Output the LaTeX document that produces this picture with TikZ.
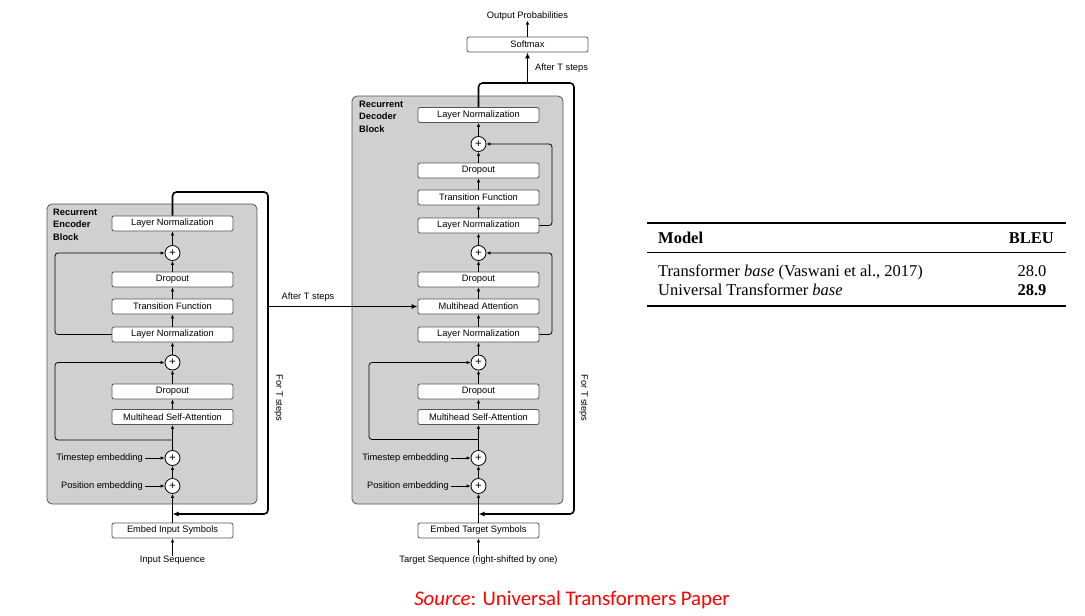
\documentclass[tikz,border=0pt]{standalone}
\usepackage{fontspec}
\setmainfont{Liberation Sans}
\newfontfamily\tabfont{Liberation Serif}
\newfontfamily\srcfont{Carlito}
\usetikzlibrary{arrows.meta}
\definecolor{blockgray}{RGB}{208,208,208}
\definecolor{edgegray}{RGB}{85,85,85}
\definecolor{srcred}{RGB}{255,0,0}
\begin{document}
\begin{tikzpicture}[x=1pt,y=-1pt,font=\fontsize{9.3}{11}\selectfont,
  layer/.style={draw=edgegray,fill=white,rounded corners=2pt,minimum width=121pt,minimum height=15pt,inner sep=0pt,line width=0.8pt},
  addop/.style={circle,draw=black,fill=white,minimum size=15pt,inner sep=0pt,line width=0.8pt,font=\fontsize{11.5}{12}\selectfont},
  blockbg/.style={draw=edgegray,fill=blockgray,rounded corners=5pt,line width=0.8pt},
  flow/.style={line width=0.8pt,-{Latex[length=4pt,width=3.5pt]}},
  loopflow/.style={line width=0.8pt,rounded corners=3pt,-{Latex[length=4pt,width=3.5pt]}},
  fbline/.style={line width=1.6pt,rounded corners=4pt,-{Latex[length=6pt,width=5pt]}},
  crossflow/.style={line width=1.1pt,-{Latex[length=6pt,width=5pt]}},
  blocklabel/.style={anchor=north west,align=left,inner sep=0pt,font=\fontsize{9.3}{12.3}\selectfont\bfseries},
  sidelabel/.style={anchor=east,inner sep=0pt},
  tabtext/.style={inner sep=0pt,font=\fontsize{16.5}{18}\selectfont\tabfont},
  tabbold/.style={inner sep=0pt,font=\fontsize{16.5}{18}\selectfont\tabfont\bfseries},
]
\useasboundingbox (0,0) rectangle (1085,616);

% ---------------- Encoder ----------------
\path[blockbg] (47,204) rectangle (257,504);
\node[blocklabel] (enclabel) at (53,209) {Recurrent\\Encoder\\Block};

\node[layer] (eln2) at (172.5,223.5) {Layer Normalization};
\node[addop] (eadd2) at (172.5,253) {+};
\node[layer] (edrop2) at (172.5,279.5) {Dropout};
\node[layer] (etf) at (172.5,306.5) {Transition Function};
\node[layer] (eln1) at (172.5,334.5) {Layer Normalization};
\node[addop] (eadd1) at (172.5,362.5) {+};
\node[layer] (edrop1) at (172.5,391.5) {Dropout};
\node[layer] (emsa) at (172.5,417) {Multihead Self-Attention};
\node[addop] (etime) at (172.5,458) {+};
\node[addop] (epos) at (172.5,486) {+};
\node[layer] (eemb) at (172.5,530.5) {Embed Input Symbols};
\node[inner sep=0pt] (einput) at (172.5,560) {Input Sequence};
\node[sidelabel] (etimelab) at (143,458) {Timestep embedding};
\node[sidelabel] (eposlab) at (143,486) {Position embedding};

\coordinate (ebr) at (172.5,440);
\coordinate (efb) at (172.5,514);

\draw[flow] (einput.north) -- (eemb.south);
\draw[flow] (eemb.north) -- (epos.south);
\draw[flow] (epos.north) -- (etime.south);
\draw[flow] (etime.north) -- (emsa.south);
\draw[flow] (emsa.north) -- (edrop1.south);
\draw[flow] (edrop1.north) -- (eadd1.south);
\draw[flow] (eadd1.north) -- (eln1.south);
\draw[flow] (eln1.north) -- (etf.south);
\draw[flow] (etf.north) -- (edrop2.south);
\draw[flow] (edrop2.north) -- (eadd2.south);
\draw[flow] (eadd2.north) -- (eln2.south);
\draw[flow] ([xshift=2pt]etimelab.east) -- (etime.west);
\draw[flow] ([xshift=2pt]eposlab.east) -- (epos.west);

\draw[loopflow] (eln1.west) -- (55,334.5) -- (55,253) -- (eadd2.west);
\draw[loopflow] (ebr) -- (55,440) -- (55,362.5) -- (eadd1.west);

\draw[fbline] (eln2.north) -- (172.5,192) -- (268,192) -- (268,514) -- (efb);
\node[rotate=-90,inner sep=0pt] (efor) at (278.5,398) {For T steps};

% ---------------- Decoder ----------------
\path[blockbg] (352,96) rectangle (563,504);
\node[blocklabel] (declabel) at (359,101) {Recurrent\\Decoder\\Block};

\node[layer] (dln3) at (478.5,115) {Layer Normalization};
\node[addop] (dadd3) at (478.5,144) {+};
\node[layer] (ddrop3) at (478.5,170.5) {Dropout};
\node[layer] (dtf) at (478.5,197.5) {Transition Function};
\node[layer] (dln2) at (478.5,225.5) {Layer Normalization};
\node[addop] (dadd2) at (478.5,253) {+};
\node[layer] (ddrop2) at (478.5,279.5) {Dropout};
\node[layer] (dmha) at (478.5,306.5) {Multihead Attention};
\node[layer] (dln1) at (478.5,334.5) {Layer Normalization};
\node[addop] (dadd1) at (478.5,362.5) {+};
\node[layer] (ddrop1) at (478.5,391.5) {Dropout};
\node[layer] (dmsa) at (478.5,417) {Multihead Self-Attention};
\node[addop] (dtime) at (478.5,458) {+};
\node[addop] (dpos) at (478.5,486) {+};
\node[layer] (demb) at (478.5,530.5) {Embed Target Symbols};
\node[inner sep=0pt] (dinput) at (478.5,560) {Target Sequence (right-shifted by one)};
\node[sidelabel] (dtimelab) at (449,458) {Timestep embedding};
\node[sidelabel] (dposlab) at (449,486) {Position embedding};

\coordinate (dbr) at (478.5,439.5);
\coordinate (dfb) at (478.5,514);

\draw[flow] (dinput.north) -- (demb.south);
\draw[flow] (demb.north) -- (dpos.south);
\draw[flow] (dpos.north) -- (dtime.south);
\draw[flow] (dtime.north) -- (dmsa.south);
\draw[flow] (dmsa.north) -- (ddrop1.south);
\draw[flow] (ddrop1.north) -- (dadd1.south);
\draw[flow] (dadd1.north) -- (dln1.south);
\draw[flow] (dln1.north) -- (dmha.south);
\draw[flow] (dmha.north) -- (ddrop2.south);
\draw[flow] (ddrop2.north) -- (dadd2.south);
\draw[flow] (dadd2.north) -- (dln2.south);
\draw[flow] (dln2.north) -- (dtf.south);
\draw[flow] (dtf.north) -- (ddrop3.south);
\draw[flow] (ddrop3.north) -- (dadd3.south);
\draw[flow] (dadd3.north) -- (dln3.south);
\draw[flow] ([xshift=2pt]dtimelab.east) -- (dtime.west);
\draw[flow] ([xshift=2pt]dposlab.east) -- (dpos.west);

\draw[loopflow] (dbr) -- (369,439.5) -- (369,362.5) -- (dadd1.west);
\draw[loopflow] (dln1.east) -- (552,334.5) -- (552,253) -- (dadd2.east);
\draw[loopflow] (dln2.east) -- (552,225.5) -- (552,144) -- (dadd3.east);

\draw[fbline] (dln3.north) -- (478.5,83) -- (574,83) -- (574,514) -- (dfb);
\node[rotate=-90,inner sep=0pt] (dfor) at (583.5,398) {For T steps};

\node[layer] (softmax) at (527.5,44.5) {Softmax};
\coordinate (dtop) at (527.5,83);
\draw[line width=1.6pt,-{Latex[length=6pt,width=5pt]}] (dtop) -- (softmax.south);
\node[anchor=west,inner sep=0pt] (dafter) at (535,68) {After T steps};
\node[inner sep=0pt] (outprob) at (527.5,16) {Output Probabilities};
\draw[flow] (softmax.north) -- (outprob.south);

% encoder -> decoder
\coordinate (ecross) at (268,306.5);
\draw[crossflow] (ecross) -- (dmha.west);
\node[inner sep=0pt] (eafter) at (308,297) {After T steps};

% ---------------- Table ----------------
\draw[line width=1.5pt] (647,223) -- (1066,223);
\draw[line width=0.8pt] (647,252) -- (1066,252);
\draw[line width=1.5pt] (647,306) -- (1066,306);
\node[tabbold,anchor=base west] (thmodel) at (658,243) {Model};
\node[tabbold,anchor=base east] (thbleu) at (1054,243) {BLEU};
\node[tabtext,anchor=base west] (r1a) at (658,276) {Transformer \textit{base} (Vaswani et al., 2017)};
\node[tabtext,anchor=base] (r1b) at (1032,276) {28.0};
\node[tabtext,anchor=base west] (r2a) at (658,295) {Universal Transformer \textit{base}};
\node[tabbold,anchor=base] (r2b) at (1032,295) {28.9};

% ---------------- Source ----------------
\node[inner sep=0pt,text=srcred,font=\fontsize{20.8}{24}\selectfont\srcfont] (src) at (572,600) {\textit{Source}: Universal Transformers Paper};
\end{tikzpicture}
\end{document}
